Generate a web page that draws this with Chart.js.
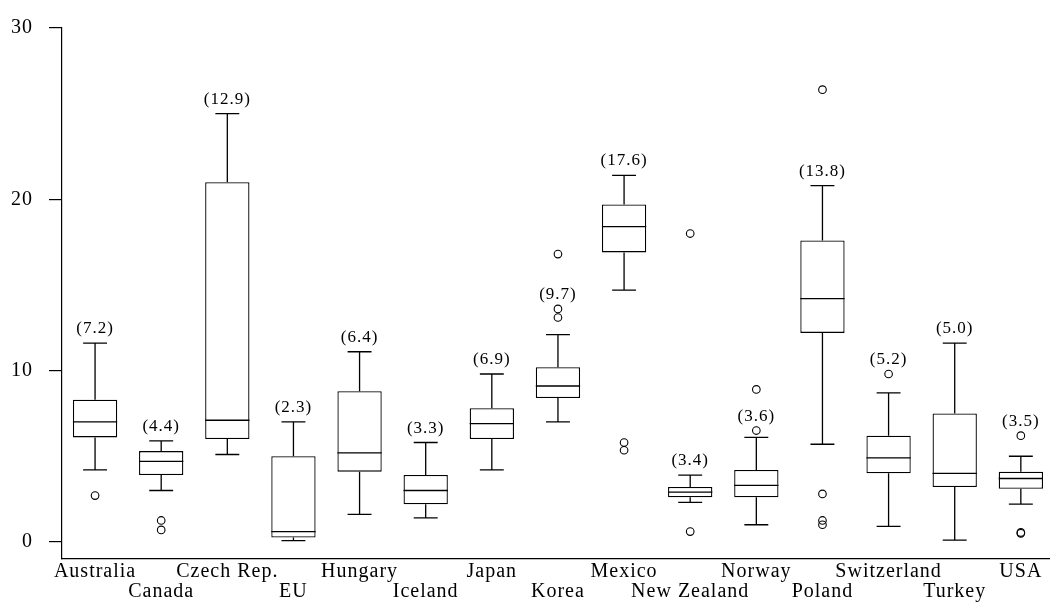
<!DOCTYPE html>
<html>
<head>
<meta charset="utf-8">
<script src="https://cdn.jsdelivr.net/npm/chart.js@4.4.1/dist/chart.umd.min.js"></script>
<style>
  html, body { margin: 0; padding: 0; background: #fff; overflow: hidden; }
  #wrap { width: 1050px; height: 603px; overflow: hidden; }
</style>
</head>
<body>
<div id="wrap"><canvas id="boxes" width="1059" height="603"></canvas></div>
<script>
// countries on the x axis
const categories = ['Australia', 'Canada', 'Czech Rep.', 'EU', 'Hungary', 'Iceland', 'Japan', 'Korea',
  'Mexico', 'New Zealand', 'Norway', 'Poland', 'Switzerland', 'Turkey', 'USA'];

// box plot statistics
const upperWhisker = [11.6, 5.9, 25.0, 7.0, 11.1, 5.8, 9.8, 12.1, 21.4, 3.9, 6.1, 20.8, 8.7, 11.6, 5.0];
const q3 = [8.3, 5.3, 21.0, 5.0, 8.8, 3.9, 7.8, 10.2, 19.7, 3.2, 4.2, 17.6, 6.2, 7.5, 4.1];
const median = [7.0, 4.7, 7.1, 0.6, 5.2, 3.0, 6.9, 9.1, 18.4, 2.9, 3.3, 14.2, 4.9, 4.0, 3.7];
const q1 = [6.1, 3.9, 6.0, 0.25, 4.1, 2.2, 6.0, 8.4, 16.9, 2.6, 2.6, 12.2, 4.0, 3.2, 3.1];
const lowerWhisker = [4.2, 3.0, 5.1, 0.07, 1.6, 1.4, 4.2, 7.0, 14.7, 2.3, 1.0, 5.7, 0.9, 0.1, 2.2];
const outliers = [[2.7], [1.25, 0.7], [], [], [], [], [], [16.8, 13.6, 13.1], [5.8, 5.35],
  [18.0, 0.6], [8.9, 6.5], [26.4, 2.8, 1.25, 1.0], [9.8], [], [6.2, 0.55, 0.5]];
// value printed above each box
const means = ['7.2', '4.4', '12.9', '2.3', '6.4', '3.3', '6.9', '9.7', '17.6', '3.4', '3.6', '13.8', '5.2', '5.0', '3.5'];

const yTicks = [0, 10, 20, 30];

Chart.defaults.font.family = "'Liberation Serif', 'Times New Roman', serif";
Chart.defaults.color = '#000';

const outlierPoints = [];
outliers.forEach((list, i) => list.forEach(v => outlierPoints.push({ x: categories[i], y: v })));

// whiskers, medians and the (mean) labels
const boxDetails = {
  id: 'boxDetails',
  beforeDraw(chart) {
    chart.ctx.letterSpacing = '1px';
  },
  afterDatasetsDraw(chart) {
    const { ctx, scales: { y } } = chart;
    const meta = chart.getDatasetMeta(0);
    ctx.save();
    ctx.strokeStyle = '#000';
    ctx.lineWidth = 1.3;
    categories.forEach((c, i) => {
      const bar = meta.data[i];
      const cx = bar.x;
      const half = bar.width / 2;
      const cap = bar.width * 0.27;
      const yU = y.getPixelForValue(upperWhisker[i]);
      const yQ3 = y.getPixelForValue(q3[i]);
      const yM = y.getPixelForValue(median[i]);
      const yQ1 = y.getPixelForValue(q1[i]);
      const yL = y.getPixelForValue(lowerWhisker[i]);
      ctx.beginPath();
      ctx.moveTo(cx, yQ3); ctx.lineTo(cx, yU);
      ctx.moveTo(cx - cap, yU); ctx.lineTo(cx + cap, yU);
      ctx.moveTo(cx, yQ1); ctx.lineTo(cx, yL);
      ctx.moveTo(cx - cap, yL); ctx.lineTo(cx + cap, yL);
      ctx.moveTo(cx - half, yM); ctx.lineTo(cx + half, yM);
      ctx.stroke();

      // label sits above the whisker, or above outliers close to it
      let top = upperWhisker[i];
      outliers[i].filter(v => v > top).sort((a, b) => a - b).forEach(v => {
        if (v - top < 2) top = v;
      });
      ctx.font = "17px 'Liberation Serif', serif";
      ctx.fillStyle = '#000';
      ctx.textAlign = 'center';
      ctx.textBaseline = 'alphabetic';
      ctx.fillText('(' + means[i] + ')', cx, y.getPixelForValue(top) - 10);
    });
    ctx.restore();
  }
};

new Chart(document.getElementById('boxes'), {
  type: 'bar',
  data: {
    labels: categories,
    datasets: [{
      data: q1.map((v, i) => [v, q3[i]]),
      backgroundColor: '#fff',
      borderColor: '#000',
      borderWidth: 1.3,
      borderSkipped: false,
      barPercentage: 0.67,
      categoryPercentage: 1.0
    }, {
      type: 'line',
      data: outlierPoints,
      showLine: false,
      pointRadius: 3.8,
      pointBorderWidth: 1.1,
      pointBorderColor: '#000',
      pointBackgroundColor: 'rgba(0,0,0,0)'
    }]
  },
  options: {
    responsive: false,
    animation: false,
    layout: { padding: { top: 22, left: 0, right: 0, bottom: 0 } },
    plugins: { legend: { display: false }, tooltip: { enabled: false } },
    scales: {
      x: {
        grid: { display: false, drawTicks: false },
        border: { display: true, color: '#000', width: 1.2 },
        ticks: {
          autoSkip: false,
          maxRotation: 0,
          padding: 3,
          font: { size: 20, lineHeight: 1.0 },
          callback(value, index) {
            return index % 2 === 0 ? categories[index] : ['', categories[index]];
          }
        },
        afterFit(scale) { scale.height = 44; }
      },
      y: {
        min: -1,
        max: 30,
        grid: { drawOnChartArea: false, drawTicks: true, tickLength: 13, color: '#000', lineWidth: 1.2 },
        border: { display: true, color: '#000', width: 1.2 },
        ticks: {
          stepSize: 10,
          includeBounds: false,
          padding: 16,
          font: { size: 20 },
          callback(value) { return yTicks.includes(value) ? value : null; }
        },
        afterFit(scale) { scale.width = 62; }
      }
    }
  },
  plugins: [boxDetails]
});
</script>
</body>
</html>
